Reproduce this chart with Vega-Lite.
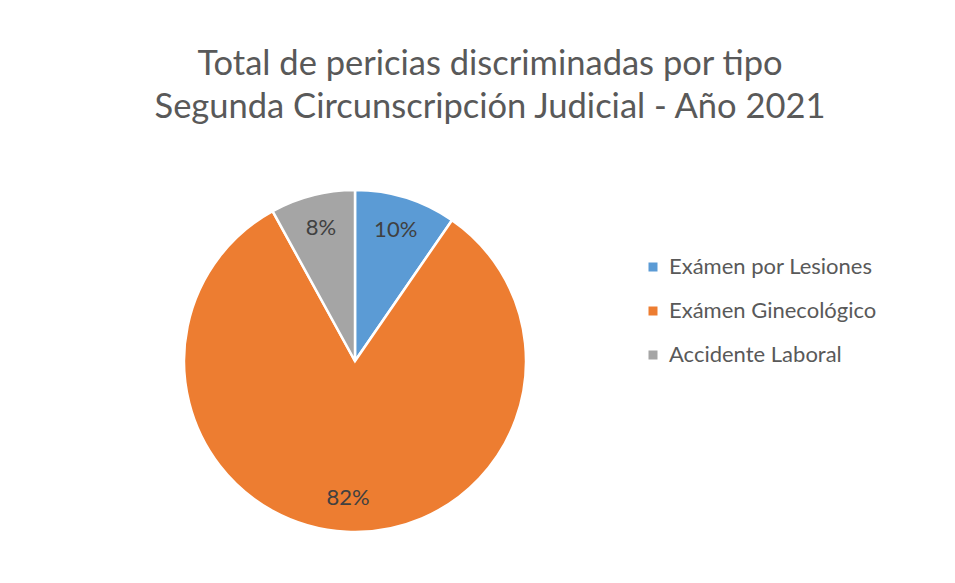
{
  "$schema": "https://vega.github.io/schema/vega-lite/v6.json",
  "autosize": "none",
  "width": 342,
  "height": 342,
  "padding": {"left": 184, "top": 190, "right": 429, "bottom": 51},
  "background": "white",
  "title": {
    "text": ["Total de pericias discriminadas por tipo", "Segunda Circunscripción Judicial - Año 2021"],
    "anchor": "middle",
    "frame": "group",
    "dx": 135,
    "offset": 60,
    "font": "Lato",
    "fontSize": 34.5,
    "fontWeight": "normal",
    "color": "#595959",
    "lineHeight": 43
  },
  "data": {
    "values": [
      {"tipo": "Exámen por Lesiones", "valor": 9.6, "orden": 1, "etiqueta": "10%"},
      {"tipo": "Exámen Ginecológico", "valor": 82.4, "orden": 2, "etiqueta": "82%"},
      {"tipo": "Accidente Laboral", "valor": 8.0, "orden": 3, "etiqueta": "8%"}
    ]
  },
  "encoding": {
    "theta": {"field": "valor", "type": "quantitative", "stack": true},
    "order": {"field": "orden", "type": "quantitative"},
    "color": {
      "field": "tipo",
      "type": "nominal",
      "scale": {
        "domain": ["Exámen por Lesiones", "Exámen Ginecológico", "Accidente Laboral"],
        "range": ["#5B9BD5", "#ED7D31", "#A5A5A5"]
      },
      "legend": {
        "title": null,
        "orient": "none",
        "legendX": 458,
        "legendY": 66,
        "symbolType": "square",
        "symbolSize": 81,
        "symbolStrokeWidth": 0,
        "labelFont": "Lato",
        "labelFontSize": 22,
        "labelColor": "#595959",
        "labelOffset": 5,
        "labelLimit": 400,
        "rowPadding": 22
      }
    }
  },
  "layer": [
    {"mark": {"type": "arc", "stroke": "white", "strokeWidth": 2.5}},
    {
      "mark": {"type": "text", "radius": 137, "font": "Lato", "fontSize": 22, "fill": "#404040"},
      "encoding": {"text": {"field": "etiqueta", "type": "nominal"}, "color": {"value": "#404040"}}
    }
  ],
  "config": {"view": {"stroke": null}}
}
